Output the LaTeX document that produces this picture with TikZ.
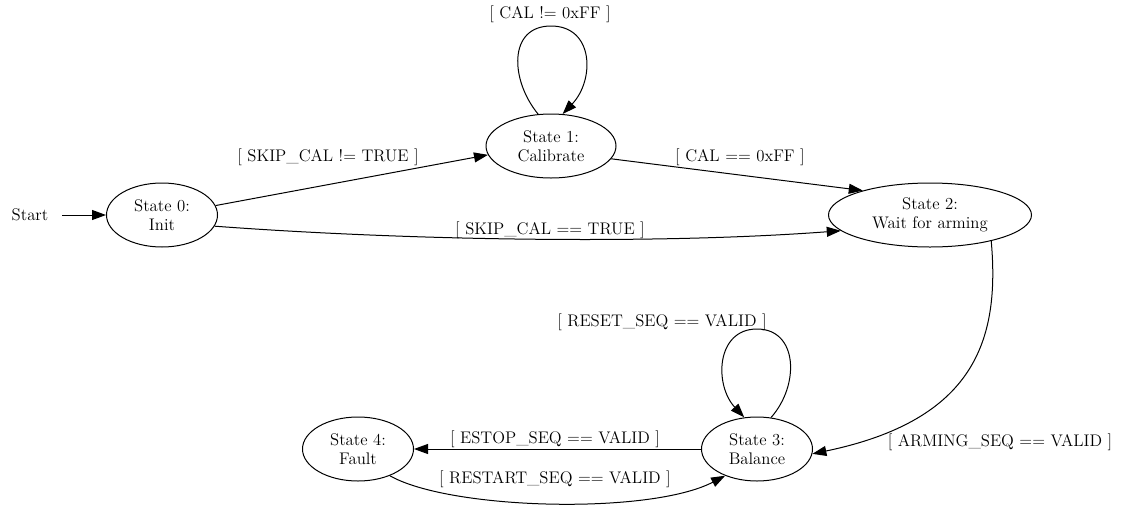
\documentclass[tikz,border=0pt]{standalone}
\usetikzlibrary{arrows.meta,shapes.geometric}
\begin{document}
\begin{tikzpicture}[x=0.75pt,y=-0.75pt,
  every node/.style={font=\fontsize{12.6}{14.5}\selectfont},
  st/.style={draw,ellipse,line width=0.75pt,inner sep=0pt,align=center},
  lbl/.style={inner sep=0pt},
  edge/.style={line width=0.75pt,-{Triangle[length=10.5pt,width=7.5pt]}}]
\useasboundingbox (0,0) rectangle (1122,508);
\node[lbl] (start) at (30,215) {Start};
\node[st,minimum width=111*0.75pt,minimum height=64*0.75pt] (s0) at (162,215) {State 0:\\Init};
\node[st,minimum width=130*0.75pt,minimum height=64*0.75pt] (s1) at (551,146) {State 1:\\Calibrate};
\node[st,minimum width=203*0.75pt,minimum height=64*0.75pt] (s2) at (930,215) {State 2:\\Wait for arming};
\node[st,minimum width=111*0.75pt,minimum height=64*0.75pt] (s3) at (757,449) {State 3:\\Balance};
\node[st,minimum width=111*0.75pt,minimum height=64*0.75pt] (s4) at (358,449) {State 4:\\Fault};
% labels
\node[lbl] (l01) at (328,157) {[ SKIP\_CAL != TRUE ]};
\node[lbl] (l02) at (550,230) {[ SKIP\_CAL == TRUE ]};
\node[lbl] (l12) at (740,157) {[ CAL == 0xFF ]};
\node[lbl] (l11) at (550,14) {[ CAL != 0xFF ]};
\node[lbl] (l23) at (1000,442) {[ ARMING\_SEQ == VALID ]};
\node[lbl] (l33) at (662,322) {[ RESET\_SEQ == VALID ]};
\node[lbl] (l34) at (555,439) {[ ESTOP\_SEQ == VALID ]};
\node[lbl] (l43) at (555,479) {[ RESTART\_SEQ == VALID ]};
% edges
\coordinate (st0) at (62,215);
\draw[edge] (st0) -- (s0.west);
\draw[edge] (s0.10) -- (s1.188);
\draw[edge] (s0.-12) .. controls (400,240) and (650,245) .. (s2.190);
\draw[edge] (s1.-12) -- (s2.160);
\draw[edge] (s1.112) .. controls (510,80) and (508,26) .. (551,26) .. controls (594,26) and (595,80) .. (s1.70);
\draw[edge] (s2.-23) .. controls (1000,340) and (975,420) .. (s3.-5);
\draw[edge] (s3.66) .. controls (800,385) and (798,329) .. (757,329) .. controls (716,329) and (714,385) .. (s3.112);
\draw[edge] (s3.west) -- (s4.east);
\draw[edge] (s4.-40) .. controls (450,510) and (650,515) .. (s3.-140);
\end{tikzpicture}
\end{document}
